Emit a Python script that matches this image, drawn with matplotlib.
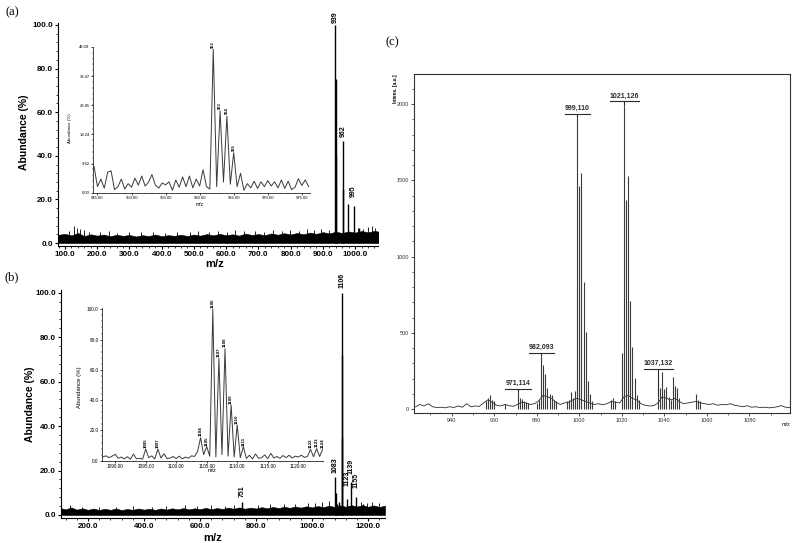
import numpy as np
import matplotlib.pyplot as plt
from matplotlib.ticker import MultipleLocator

plt.rcParams['font.family'] = ['Liberation Sans', 'DejaVu Sans']

# ---------------- data ----------------
# (a) full spectrum: noise band envelope every 20 m/z from 80, spikes, main peaks
band_a = [3.8, 4.2, 3.5, 4.6, 3.2, 4.0, 3.4, 3.9, 3.1, 3.8, 3.3, 3.7, 3.0, 3.6, 3.2,
          3.9, 3.1, 3.6, 3.3, 3.8, 3.2, 3.9, 3.4, 4.1, 3.5, 4.2, 3.6, 4.0, 3.4, 4.3,
          3.7, 4.1, 3.6, 4.4, 3.8, 4.5, 3.9, 4.6, 4.0, 4.8, 4.2, 5.0, 4.4, 5.2, 4.6,
          5.3, 4.8, 5.5, 4.9, 5.6, 5.0]
spike_a_mz = [112, 128, 136, 146, 158, 175, 210, 236, 262, 298, 335, 372, 410, 447,
              488, 512, 548, 575, 603, 628, 655, 690, 718, 745, 772, 798, 826, 851,
              872, 895, 918, 1010, 1025, 1040, 1052, 1062]
spike_a = [5.5, 8.0, 7.0, 6.5, 5.8, 5.2, 5.0, 5.3, 4.8, 5.0, 4.9, 5.1, 4.8, 5.2,
           4.9, 5.4, 5.0, 5.6, 5.2, 5.8, 5.3, 5.6, 5.1, 5.9, 5.4, 6.0, 5.6, 6.3,
           5.8, 6.5, 6.0, 7.0, 6.5, 7.2, 7.8, 7.0]
peak_a_mz = [939, 940, 941, 962, 963, 978, 995, 1012]
peak_a = [100, 75, 40, 47, 25, 18, 17, 7]
lab_a = ['939', '962', '995']
lab_a_mz = [939, 962, 995]
lab_a_y = [101, 48.5, 21]

# (a) inset: 944.5 .. 976.0 every 0.5
ins_a = [8.6, 2.0, 4.5, 1.5, 6.8, 7.2, 1.0, 2.0, 4.5, 1.2, 3.0, 1.8, 4.8, 2.5, 5.5,
         2.2, 3.5, 6.0, 2.5, 1.5, 3.2, 2.6, 3.6, 0.8, 4.2, 1.8, 5.2, 2.0, 5.5, 1.6,
         4.5, 2.2, 7.6, 2.0, 1.2, 47.3, 2.0, 27.0, 3.5, 25.3, 2.8, 13.2, 2.0, 6.4,
         0.8, 3.0, 1.6, 3.8, 1.4, 3.6, 2.0, 4.0, 2.2, 3.6, 1.6, 4.2, 1.4, 3.8, 1.0,
         1.8, 4.6, 2.4, 4.2, 2.0]
ins_a_lab = ['962', '963', '964', '965']
ins_a_lab_mz = [962, 963, 964, 965]
ins_a_lab_y = [47.8, 27.6, 25.9, 13.8]

# (b) full spectrum: band every 20 m/z from 100
band_b = [3.2, 2.5, 3.4, 2.4, 3.0, 2.3, 2.9, 2.2, 2.8, 2.3, 2.9, 2.2, 2.7, 2.3, 2.9,
          2.4, 2.8, 2.3, 2.9, 2.4, 3.0, 2.5, 3.1, 2.5, 3.0, 2.6, 3.2, 2.6, 3.1, 2.7,
          3.3, 2.8, 3.4, 2.8, 3.3, 2.9, 3.5, 3.0, 3.6, 3.1, 3.7, 3.2, 3.8, 3.3, 3.9,
          3.4, 4.0, 3.5, 4.2, 3.6, 4.3, 3.7, 4.4, 3.8, 4.4, 3.7, 4.3, 3.6, 4.2]
spike_b_mz = [135, 180, 240, 300, 360, 430, 480, 545, 590, 640, 690, 720, 805, 850,
              900, 940, 985, 1010, 1035, 1060, 1175, 1195, 1215, 1240]
spike_b = [4.5, 3.8, 3.6, 3.7, 3.9, 3.8, 4.0, 4.3, 4.1, 4.4, 4.2, 4.5, 4.6, 4.8,
           5.0, 5.1, 5.6, 5.3, 6.0, 6.2, 6.0, 5.5, 5.8, 5.4]
peak_b_mz = [751, 1083, 1084, 1090, 1095, 1106, 1107, 1108, 1123, 1139, 1155, 1180]
peak_b = [6, 17, 10, 5, 6, 100, 72, 35, 7, 15, 8, 5]
lab_b = ['751', '1083', '1106', '1123', '1139', '1155']
lab_b_mz = [751, 1083, 1106, 1123, 1139, 1155]
lab_b_y = [8, 19, 102, 13, 18.5, 12]

# (b) inset: 1088.0 .. 1124.0 every 0.5
ins_b = [2.5, 3.2, 2.0, 3.0, 4.2, 1.6, 2.4, 1.2, 2.6, 1.0, 4.4, 1.2, 1.6, 1.0, 7.7,
         2.0, 3.2, 1.2, 7.7, 1.8, 4.5, 1.4, 1.8, 2.8, 1.4, 3.0, 1.2, 2.4, 1.6, 3.2,
         2.8, 6.0, 15.2, 4.0, 9.3, 3.0, 100.0, 2.5, 67.6, 4.0, 74.0, 3.0, 36.8, 2.5,
         23.6, 2.0, 9.3, 1.5, 3.6, 1.2, 4.5, 1.6, 2.0, 3.8, 1.4, 4.8, 1.8, 2.8, 1.6,
         3.4, 2.0, 3.6, 1.8, 3.0, 2.4, 3.6, 2.2, 2.8, 7.5, 2.6, 8.0, 2.8, 7.7]
ins_b_lab = ['1095', '1097', '1104', '1105', '1106', '1107', '1108', '1109', '1110',
             '1111', '1122', '1123', '1124']
ins_b_lab_mz = [1095, 1097, 1104, 1105, 1106, 1107, 1108, 1109, 1110, 1111, 1122, 1123, 1124]
ins_b_lab_y = [8.5, 8.5, 16, 10, 101, 68.5, 75, 37.5, 24.5, 10, 8.5, 9, 8.5]

# (c) MALDI spectrum: baseline every 2 m/z from 923, then isotope sticks
base_c = [15, 30, 20, 35, 15, 10, 12, 8, 15, 10, 20, 12, 35, 15, 20, 18, 40, 60, 45,
          25, 20, 30, 22, 18, 30, 45, 40, 30, 35, 55, 90, 80, 70, 45, 30, 40, 45, 60,
          70, 60, 50, 40, 30, 35, 28, 35, 50, 45, 40, 80, 90, 70, 60, 35, 25, 20, 22,
          40, 80, 70, 60, 70, 50, 35, 40, 45, 50, 40, 35, 30, 35, 25, 30, 28, 35, 25,
          20, 15, 22, 12, 15, 10, 12, 8, 10, 15, 22, 12, 10]
mz_c = [956, 957, 958, 959, 960, 965, 971, 972, 973, 974, 975, 976, 980, 981, 982,
        983, 984, 985, 986, 987, 988, 989, 994, 995, 996, 997, 998, 999, 1000, 1001,
        1002, 1003, 1004, 1005, 1006, 1015, 1016, 1017, 1020, 1021, 1022, 1023, 1024,
        1025, 1026, 1027, 1028, 1037, 1038, 1039, 1040, 1041, 1042, 1043, 1044, 1045,
        1046, 1047, 1055, 1056, 1057]
int_c = [50, 70, 90, 60, 50, 35, 105, 70, 65, 55, 45, 40, 40, 60, 345, 290, 230, 140,
         100, 95, 60, 50, 55, 60, 110, 75, 120, 1910, 1460, 1545, 830, 505, 185, 100,
         55, 60, 70, 55, 370, 1990, 1370, 1530, 710, 410, 205, 90, 60, 80, 140, 240,
         130, 145, 80, 60, 210, 150, 140, 70, 100, 60, 50]
lab_c = ['971,114', '982,093', '999,110', '1021,126', '1037,132']
lab_c_mz = [971.114, 982.093, 999.110, 1021.126, 1037.132]
lab_c_peak = [105, 345, 1910, 1990, 80]
lab_c_y = [131, 369, 1937, 2018, 262]

# ---------------- layout ----------------
W, H = 800, 543


def rect(left, top, right, bottom):
    return [left / W, 1 - bottom / H, (right - left) / W, (bottom - top) / H]


def ftext(x, y, s, **kw):
    fig.text(x / W, 1 - y / H, s, ha='center', va='center', **kw)


def style(ax, lw, size, major, minor, pad=1):
    for s in ('top', 'right'):
        ax.spines[s].set_visible(False)
    for s in ('left', 'bottom'):
        ax.spines[s].set_linewidth(lw)
    ax.tick_params(which='major', length=major, width=lw, labelsize=size, pad=pad)
    ax.tick_params(which='minor', length=minor, width=lw * 0.7)
    ax.patch.set_alpha(0)


def sticks_labels(ax, labels, xs, ys, size):
    for s, m, y in zip(labels, xs, ys):
        ax.text(m, y, s, rotation=90, ha='center', va='bottom', fontsize=size,
                fontweight='bold', clip_on=False)


fig = plt.figure(figsize=(8, 5.43), dpi=100)

# ---- (a) ----
ax = fig.add_axes(rect(58, 22.8, 378, 246.3))
x = 80 + 20 * np.arange(len(band_a))
ax.fill_between(x, 0, band_a, color='black', lw=0.4)
ax.vlines(spike_a_mz, 0, spike_a, color='black', lw=0.6)
ax.vlines(peak_a_mz, 0, peak_a, color='black', lw=1.0)
sticks_labels(ax, lab_a, lab_a_mz, lab_a_y, 5)
ax.set_xlim(78.3, 1071)
ax.set_ylim(-1.5, 101)
style(ax, 0.8, 5.8, 2.5, 1.3)
ax.set_xticks(np.arange(100, 1001, 100), [f'{v:.1f}' for v in range(100, 1001, 100)],
              fontweight='bold')
ax.set_yticks(np.arange(0, 101, 20), [f'{v:.1f}' for v in range(0, 101, 20)],
              fontweight='bold')
ax.xaxis.set_minor_locator(MultipleLocator(20))
ax.yaxis.set_minor_locator(MultipleLocator(4))

ia = fig.add_axes(rect(92.7, 47, 310, 192.7))
ia.plot(944.5 + 0.5 * np.arange(len(ins_a)), ins_a, color='#3a3a3a', lw=0.7)
sticks_labels(ia, ins_a_lab, ins_a_lab_mz, ins_a_lab_y, 3)
ia.set_xlim(944.3, 976.2)
ia.set_ylim(0, 48.09)
style(ia, 0.5, 3, 1.5, 0.8, pad=0.8)
ia.set_xticks(np.arange(945, 976, 5), [f'{v:.2f}' for v in range(945, 976, 5)])
yt = [0, 9.62, 19.24, 28.85, 38.47, 48.09]
ia.set_yticks(yt, [f'{v:.2f}' for v in yt])
ia.xaxis.set_minor_locator(MultipleLocator(1))
ia.yaxis.set_minor_locator(MultipleLocator(9.618 / 5))

ftext(12, 12, '(a)', family='Liberation Serif', fontsize=9)
ftext(24, 132, 'Abundance (%)', rotation=90, fontsize=7.5, fontweight='bold')
ftext(215, 264, 'm/z', fontsize=8, fontweight='bold')
ftext(70, 128, 'Abundance (%)', rotation=90, fontsize=3.2)
ftext(200, 205, 'm/z', fontsize=3.6)

# ---- (b) ----
bx = fig.add_axes(rect(61, 290.5, 385, 518.3))
x = 100 + 20 * np.arange(len(band_b))
bx.fill_between(x, 0, band_b, color='black', lw=0.4)
bx.vlines(spike_b_mz, 0, spike_b, color='black', lw=0.6)
bx.vlines(peak_b_mz, 0, peak_b, color='black', lw=1.0)
sticks_labels(bx, lab_b, lab_b_mz, lab_b_y, 5)
bx.set_xlim(103.6, 1260)
bx.set_ylim(-1.5, 101)
style(bx, 0.8, 5.8, 2.5, 1.3)
bx.set_xticks(np.arange(200, 1201, 200), [f'{v:.1f}' for v in range(200, 1201, 200)],
              fontweight='bold')
bx.set_yticks(np.arange(0, 101, 20), [f'{v:.1f}' for v in range(0, 101, 20)],
              fontweight='bold')
bx.xaxis.set_minor_locator(MultipleLocator(40))
bx.yaxis.set_minor_locator(MultipleLocator(4))

ib = fig.add_axes(rect(101.7, 307.8, 323.3, 460.7))
ib.plot(1088 + 0.5 * np.arange(len(ins_b)), ins_b, color='#3a3a3a', lw=0.7)
sticks_labels(ib, ins_b_lab, ins_b_lab_mz, ins_b_lab_y, 3.2)
ib.set_xlim(1087.8, 1124.1)
ib.set_ylim(0, 101)
style(ib, 0.5, 3.4, 1.5, 0.8, pad=0.8)
ib.set_xticks(np.arange(1090, 1121, 5), [f'{v:.2f}' for v in range(1090, 1121, 5)])
ib.set_yticks(np.arange(0, 101, 20), [f'{v:.1f}' for v in range(0, 101, 20)])
ib.xaxis.set_minor_locator(MultipleLocator(1))
ib.yaxis.set_minor_locator(MultipleLocator(4))

ftext(12, 277, '(b)', family='Liberation Serif', fontsize=9)
ftext(30, 404, 'Abundance (%)', rotation=90, fontsize=7.5, fontweight='bold')
ftext(213, 538, 'm/z', fontsize=8, fontweight='bold')
ftext(79, 387, 'Abundance (%)', rotation=90, fontsize=4.3)
ftext(212, 471, 'm/z', fontsize=4)

# ---- (c) ----
cx = fig.add_axes(rect(414.3, 74, 790, 412.7))
x = 923 + 2 * np.arange(len(base_c))
cx.plot(x, base_c, color='#2a2a2a', lw=0.6)
cx.vlines(mz_c, 0, int_c, color='#3a3a3a', lw=0.8)
for s, m, p, y in zip(lab_c, lab_c_mz, lab_c_peak, lab_c_y):
    cx.vlines(m, p, y, color='#2a2a2a', lw=0.8)
    half = 0.85 * len(s)
    cx.plot([m - half, m + half], [y, y], color='#2a2a2a', lw=0.8)
    cx.text(m, y + 12, s, ha='center', va='bottom', fontsize=5, fontweight='bold',
            color='#2a2a2a')
cx.set_xlim(922.4, 1099.1)
cx.set_ylim(-24, 2197)
for s in cx.spines.values():
    s.set_linewidth(0.8)
    s.set_color('#333333')
cx.tick_params(which='major', length=2.5, width=0.6, labelsize=4, pad=1.5,
               colors='#333333')
cx.tick_params(which='minor', length=1.5, width=0.5, colors='#333333')
cx.set_xticks(np.arange(940, 1081, 20))
cx.set_yticks(np.arange(0, 2001, 500))
cx.xaxis.set_minor_locator(MultipleLocator(10))
cx.yaxis.set_minor_locator(MultipleLocator(100))
cx.text(-0.05, 1.0, 'Intens. [a.u.]', transform=cx.transAxes, rotation=90,
        ha='center', va='top', fontsize=3.4, fontweight='bold')
cx.text(0.99, -0.035, 'm/z', transform=cx.transAxes, ha='center', va='center',
        fontsize=3.8)

ftext(392, 42, '(c)', family='Liberation Serif', fontsize=9)

fig.savefig('out.png', dpi=100)
